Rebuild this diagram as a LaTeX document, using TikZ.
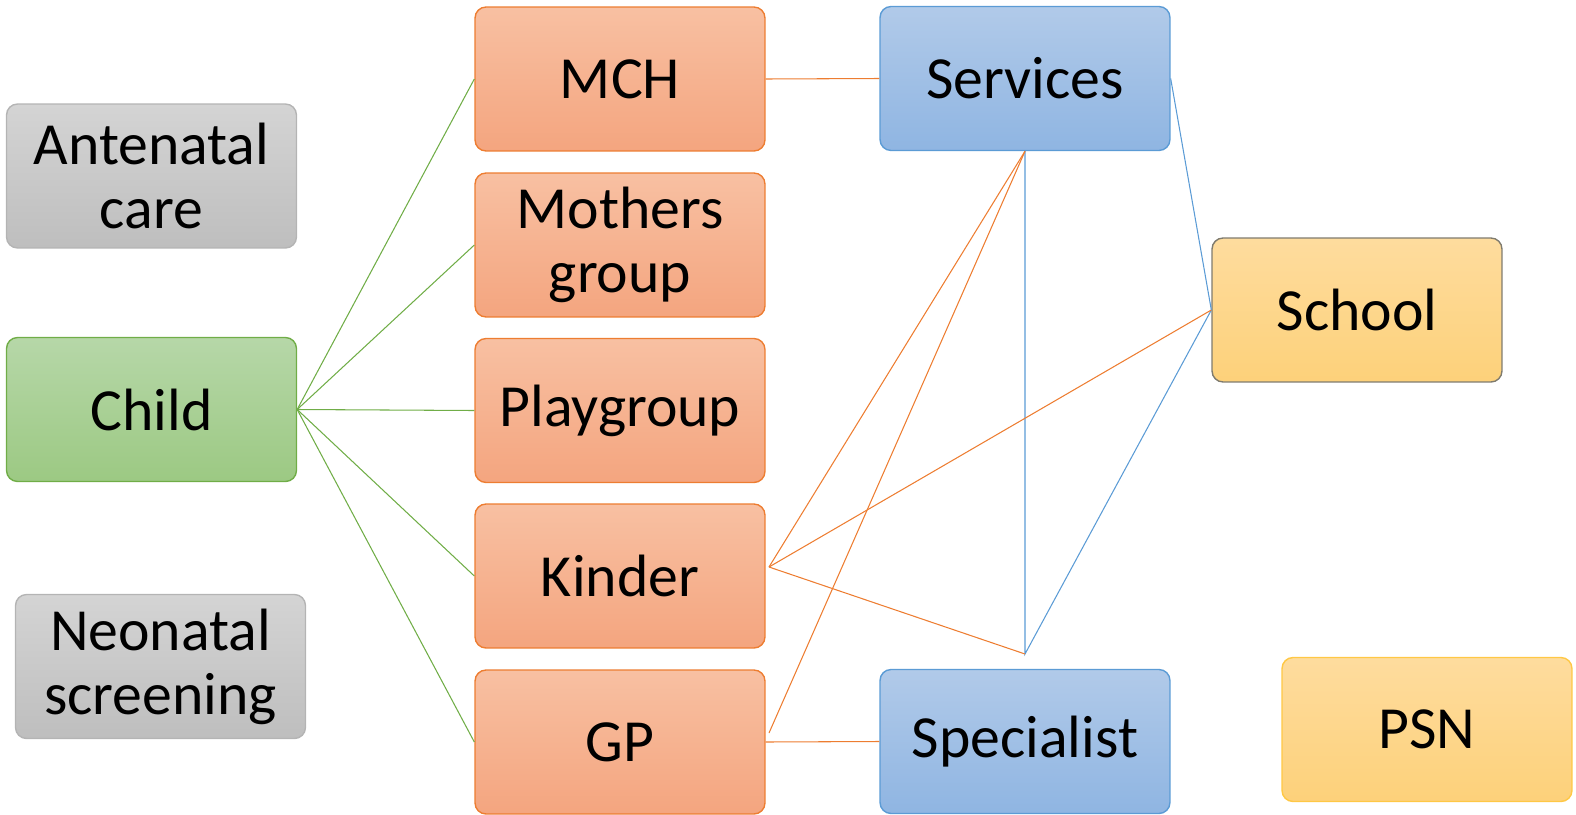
\documentclass[tikz,border=0pt]{standalone}
\usepackage{fontspec}
\setmainfont{Carlito}
\begin{document}
\begin{tikzpicture}[x=0.02cm,y=-0.02cm]
\definecolor{orT}{HTML}{F8C0A2}
\definecolor{orB}{HTML}{F4A57F}
\definecolor{orD}{HTML}{ED7D31}
\definecolor{grT}{HTML}{B6D7A8}
\definecolor{grB}{HTML}{9CC983}
\definecolor{grD}{HTML}{70AD47}
\definecolor{blT}{HTML}{B1CAE9}
\definecolor{blB}{HTML}{8FB5E2}
\definecolor{blD}{HTML}{5B9BD5}
\definecolor{gyT}{HTML}{D4D4D4}
\definecolor{gyB}{HTML}{BEBEBE}
\definecolor{gyD}{HTML}{B4B4B4}
\definecolor{ywT}{HTML}{FEDC9E}
\definecolor{ywB}{HTML}{FDD17A}
\definecolor{ywD}{HTML}{FFC845}
\definecolor{scD}{HTML}{7F7B6E}
\tikzset{
  box/.style={rounded corners=0.22cm, minimum width=5.8cm, minimum height=2.88cm,
    inner sep=0pt, align=center, line width=0.8pt,
    font=\fontsize{34}{36.5}\selectfont},
  orbox/.style={box, draw=orD, top color=orT, bottom color=orB},
  grbox/.style={box, draw=grD, top color=grT, bottom color=grB},
  blbox/.style={box, draw=blD, top color=blT, bottom color=blB},
  gybox/.style={box, draw=gyD, top color=gyT, bottom color=gyB},
  ywbox/.style={box, draw=ywD, top color=ywT, bottom color=ywB},
  scbox/.style={box, draw=scD, top color=ywT, bottom color=ywB},
  gline/.style={draw=grD, line width=0.6pt},
  oline/.style={draw=orD, line width=0.6pt},
  bline/.style={draw=blD, line width=0.6pt}
}
\useasboundingbox (0,0) rectangle (1576,815);
\node[gybox] (ante) at (151.5,176) {Antenatal\\care};
\node[grbox] (child) at (151.5,409.5) {Child};
\node[gybox] (neo) at (160.5,666.5) {Neonatal\\screening};
\node[orbox] (mch) at (620,79) {MCH};
\node[orbox] (moth) at (620,245) {Mothers\\group};
\node[orbox] (play) at (620,410.5) {Playgroup};
\node[orbox] (kind) at (620,576) {Kinder};
\node[orbox] (gp) at (620,742) {GP};
\node[blbox] (serv) at (1025,78.5) {Services};
\node[blbox] (spec) at (1025,741.5) {Specialist};
\node[scbox] (school) at (1357,310) {School};
\node[ywbox] (psn) at (1427,729.5) {PSN};
\coordinate (kp) at (769,567);
\coordinate (gpp) at (769,733);
\coordinate (pp) at (1025,654);
\foreach \t in {mch,moth,play,kind,gp}
  \draw[gline] (child.east) -- (\t.west);
\draw[oline] (mch.east) -- (serv.west);
\draw[oline] (gp.east) -- (spec.west);
\draw[bline] (serv.east) -- (school.west);
\draw[bline] (serv.south) -- (pp) -- (school.west);
\draw[oline] (kp) -- (serv.south);
\draw[oline] (kp) -- (school.west);
\draw[oline] (kp) -- (pp);
\draw[oline] (gpp) -- (serv.south);
\end{tikzpicture}
\end{document}
